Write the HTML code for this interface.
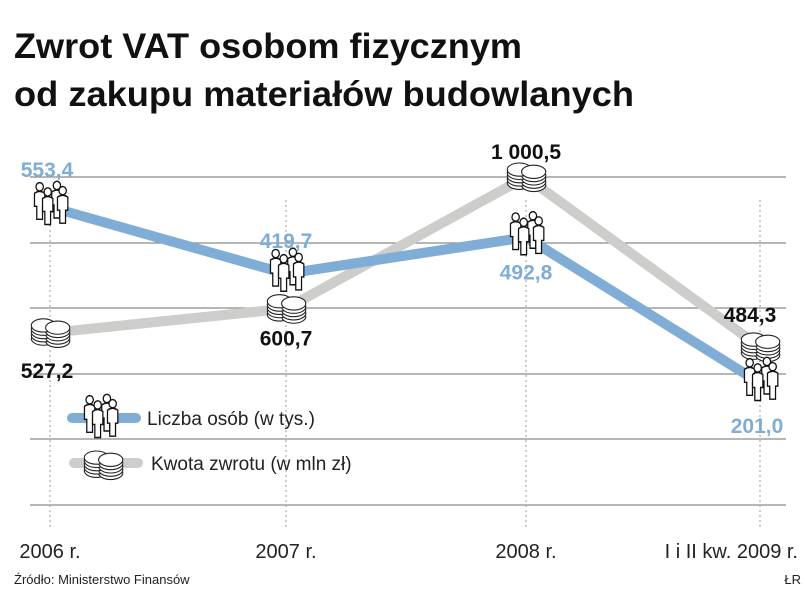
<!DOCTYPE html>
<html><head><meta charset="utf-8"><style>
body{margin:0;background:#fff}
svg{display:block;font-family:"Liberation Sans",Arial,sans-serif}
</style></head><body>
<svg id="chart" width="805" height="605" viewBox="0 0 805 605">
<text x="14" y="58" font-size="35" font-weight="bold" textLength="508" lengthAdjust="spacingAndGlyphs" fill="#111">Zwrot VAT osobom fizycznym</text>
<text x="14" y="106" font-size="35" font-weight="bold" textLength="620" lengthAdjust="spacingAndGlyphs" fill="#111">od zakupu materiałów budowlanych</text>
<g id="grid"></g><g id="vlines"></g><g id="lines"></g><g id="icons"></g><g id="labels"></g>
<g>
<line x1="72" y1="418" x2="136" y2="418" stroke="#7fadd6" stroke-width="10" stroke-linecap="round"/>
<line x1="74" y1="463" x2="138" y2="463" stroke="#cdcdcb" stroke-width="10" stroke-linecap="round"/>
<g id="legicons"></g>
<text x="147" y="425" font-size="19" fill="#222">Liczba osób (w tys.)</text>
<text x="151" y="470" font-size="19" fill="#222">Kwota zwrotu (w mln zł)</text>
</g>
<text x="14" y="584" font-size="13" fill="#222">Źródło: Ministerstwo Finansów</text>
<text x="801" y="584" font-size="13" fill="#222" text-anchor="end">ŁR</text>
</svg>
<script>
const categories=["2006 r.","2007 r.","2008 r.","I i II kw. 2009 r."];
const people=[553.4,419.7,492.8,201.0];
const amount=[527.2,600.7,1000.5,484.3];
const peopleLabels=["553,4","419,7","492,8","201,0"];
const amountLabels=["527,2","600,7","1 000,5","484,3"];
const NS="http://www.w3.org/2000/svg";
const xPos=[50,286,526,760];
function x(i){return xPos[i];}
function yP(v){return 207+(553.4-v)*0.4994;}
function yA(v){return 177+(1000.5-v)*0.3293;}
function mk(tag,attrs,parent){const e=document.createElementNS(NS,tag);for(const k in attrs)e.setAttribute(k,attrs[k]);parent.appendChild(e);return e;}
const grid=document.getElementById('grid');
[177,243,308,374,439,505].forEach(gy=>{
 const l=mk('line',{x1:30,x2:786,y1:gy,y2:gy,stroke:'#8a8a8a','stroke-width':1.2},grid);
 
 
});
const vl=document.getElementById('vlines');
categories.forEach((c,i)=>{
 const l=mk('line',{x1:x(i),x2:x(i),y1:200,y2:530,stroke:'#999','stroke-width':1,'stroke-dasharray':'2,3'},vl);
 
 
 const t=mk('text',{x:i==3?798:x(i),y:558,'font-size':20,fill:'#222','text-anchor':i==3?'end':'middle'},vl);
 t.textContent=c;
 
 
});
const lg=document.getElementById('lines');
const pA=mk('polyline',{points:amount.map((v,i)=>x(i)+','+yA(v)).join(' '),fill:'none',stroke:'#cdcdcb','stroke-width':10,'stroke-linejoin':'round'},lg);


const pP=mk('polyline',{points:people.map((v,i)=>x(i)+','+yP(v)).join(' '),fill:'none',stroke:'#7fadd6','stroke-width':10,'stroke-linejoin':'round'},lg);


function peopleIcon(cx,cy,parent){
 const g=mk('g',{transform:`translate(${cx},${cy}) scale(1.15,1.3)`},parent);
 [[-9,-3],[6,-4],[-2,1],[11,0]].forEach(([bx,by])=>{
  mk('circle',{cx:bx,cy:by-11,r:3.2,fill:'#fff',stroke:'#111','stroke-width':1.1},g);
  mk('path',{d:`M${bx-4.5} ${by+4} L${bx-4.5} ${by-6} Q${bx} ${by-9} ${bx+4.5} ${by-6} L${bx+4.5} ${by+4} L${bx+2.5} ${by+4} L${bx+2.5} ${by+14} L${bx-2.5} ${by+14} L${bx-2.5} ${by+4} Z`,fill:'#fff',stroke:'#111','stroke-width':1.1},g);
 });
 return g;
}
function coinIcon(cx,cy,parent){
 const g=mk('g',{transform:`translate(${cx},${cy}) scale(1.1)`},parent);
 for(let k=4;k>=0;k--){
  mk('ellipse',{cx:-6,cy:-4+k*3,rx:11,ry:6,fill:'#fff',stroke:'#222','stroke-width':1},g);
  mk('ellipse',{cx:7,cy:-2+k*3,rx:11,ry:6,fill:'#fff',stroke:'#222','stroke-width':1},g);
 }
 return g;
}
const ic=document.getElementById('icons');
amount.forEach((v,i)=>{
 const g=coinIcon(x(i),yA(v)-3,ic);
 
 
});
people.forEach((v,i)=>{
 const g=peopleIcon(x(i),yP(v)-2,ic);
 
 
});
const li=document.getElementById('legicons');
peopleIcon(100,418,li);
coinIcon(103,462,li);
const lb=document.getElementById('labels');
const pOff=[[-3,-30],[0,-26],[0,42],[-3,50]];
const aOff=[[-3,45],[0,37],[0,-18],[-10,-25]];
people.forEach((v,i)=>{
 const t=mk('text',{x:x(i)+pOff[i][0],y:yP(v)+pOff[i][1],'font-size':21,'font-weight':'bold',fill:'#7fadd6','text-anchor':'middle'},lb);
 t.textContent=peopleLabels[i];
 
 
});
amount.forEach((v,i)=>{
 const t=mk('text',{x:x(i)+aOff[i][0],y:yA(v)+aOff[i][1],'font-size':21,'font-weight':'bold',fill:'#111','text-anchor':'middle'},lb);
 t.textContent=amountLabels[i];
 
 
});
</script>
</body></html>
